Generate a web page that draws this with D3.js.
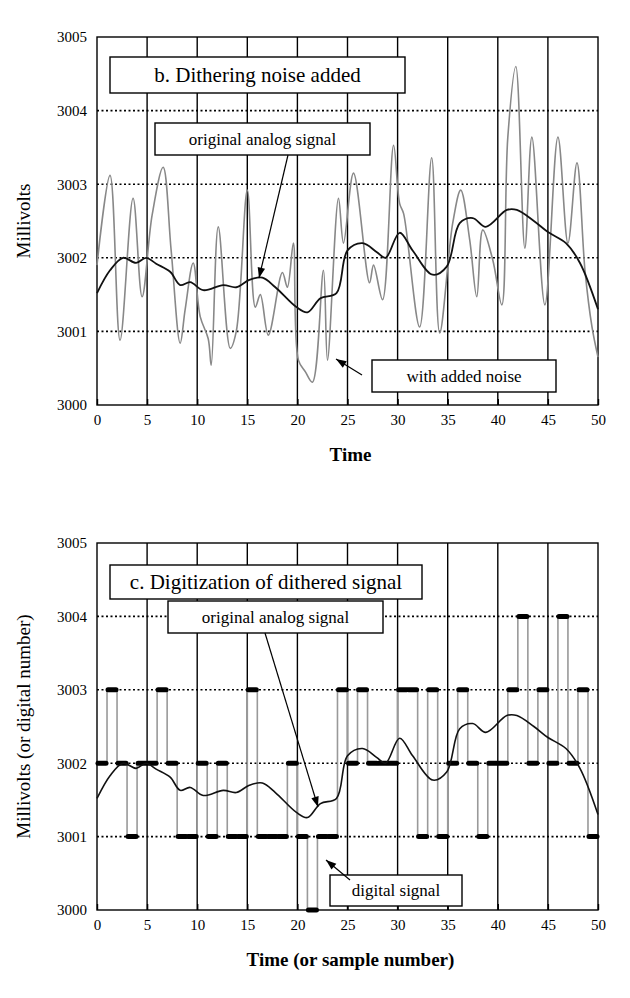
<!DOCTYPE html>
<html>
<head>
<meta charset="utf-8">
<script src="https://cdn.jsdelivr.net/npm/d3@7"></script>
<style>
body { margin: 0; background: #fff; }
svg text { font-family: "Liberation Serif", "Times New Roman", Times, "DejaVu Serif", "Noto Serif", serif !important; }
</style>
</head>
<body>
<svg id="chart" width="630" height="998"></svg>
<script>
// noisy signal (time, mV)
const noisyT = [0, 1.3, 2.3, 3.6, 4.5, 5.5, 6.6, 7.4, 8.3, 8.8, 9.6, 10.3, 11.1, 11.4, 12.1, 13.3, 13.9, 15, 15.8, 16.3, 17.1, 18.5, 19, 19.6, 20.1, 20.8, 21.5, 22.6, 23, 24.1, 24.6, 25.6, 27.2, 27.6, 28.5, 29.6, 30.2, 30.6, 32.2, 33.4, 34.2, 35.5, 36.3, 37.2, 37.9, 38.5, 39.5, 40.4, 41, 41.8, 42.7, 43.4, 44.7, 46, 47, 47.9, 48.7, 49.4, 50];
const noisyV = [3001.9, 3003.12, 3000.88, 3002.81, 3001.47, 3002.58, 3003.23, 3002.1, 3000.84, 3001.3, 3001.93, 3001.2, 3000.9, 3000.54, 3002.42, 3000.77, 3001.0, 3002.92, 3001.33, 3001.5, 3000.95, 3001.8, 3001.6, 3002.2, 3000.61, 3000.45, 3000.31, 3001.83, 3000.61, 3002.81, 3002.2, 3003.15, 3001.66, 3001.9, 3001.43, 3003.53, 3002.74, 3002.6, 3001.06, 3003.36, 3000.98, 3002.47, 3002.92, 3002.24, 3001.47, 3002.38, 3001.97, 3001.36, 3003.64, 3004.6, 3002.13, 3003.64, 3001.36, 3003.64, 3002.2, 3003.29, 3001.83, 3001.06, 3000.65];

// original analog signal
const analogT = [0, 1.3, 2.6, 3.9, 4.9, 5.9, 7.3, 8.3, 9.3, 10.6, 12.6, 13.9, 15.2, 16.5, 17.8, 19.9, 21, 22.3, 23.9, 25, 26.5, 27.9, 28.8, 30.2, 31.5, 33.5, 34.9, 36.2, 37.5, 38.8, 40.9, 41.9, 43.6, 45, 46.8, 48.2, 50];
const analogV = [3001.52, 3001.83, 3002.0, 3001.93, 3002.0, 3001.92, 3001.81, 3001.63, 3001.67, 3001.56, 3001.63, 3001.6, 3001.7, 3001.73, 3001.6, 3001.33, 3001.26, 3001.45, 3001.52, 3002.1, 3002.2, 3002.08, 3002.0, 3002.34, 3002.1, 3001.77, 3001.88, 3002.47, 3002.54, 3002.42, 3002.65, 3002.65, 3002.5, 3002.35, 3002.2, 3001.93, 3001.3];

// digitized samples, sample i held from i to i+1
const digital = [3002, 3003, 3002, 3001, 3002, 3002, 3003, 3002, 3001, 3001, 3002, 3001, 3002, 3001, 3001, 3003, 3001, 3001, 3001, 3002, 3001, 3000, 3001, 3001, 3003, 3002, 3003, 3002, 3002, 3002, 3003, 3003, 3001, 3003, 3001, 3002, 3003, 3002, 3001, 3002, 3002, 3003, 3004, 3002, 3003, 3002, 3004, 3002, 3003, 3001];

const xTicks = [0, 5, 10, 15, 20, 25, 30, 35, 40, 45, 50];
const yTicks = [3000, 3001, 3002, 3003, 3004, 3005];

const serif = '"Liberation Serif", "Times New Roman", Times, "DejaVu Serif", serif';
const svg = d3.select("#chart");
const left = 97, right = 598;

function drawPanel(top, bottom, yTitle, xTitle) {
    const x = d3.scaleLinear().domain([0, 50]).range([left, right]);
    const y = d3.scaleLinear().domain([3000, 3005]).range([bottom, top]);
    const g = svg.append("g").attr("font-family", serif);

    // dotted horizontal grid
    g.selectAll(".hg").data([3001, 3002, 3003, 3004]).join("line")
        .attr("x1", left).attr("x2", right)
        .attr("y1", d => y(d)).attr("y2", d => y(d))
        .attr("stroke", "#000").attr("stroke-width", 1.6)
        .attr("stroke-dasharray", "2,2.5");
    // solid vertical grid
    g.selectAll(".vg").data(xTicks.slice(1, -1)).join("line")
        .attr("x1", d => x(d)).attr("x2", d => x(d))
        .attr("y1", top).attr("y2", bottom)
        .attr("stroke", "#000").attr("stroke-width", 1.4);

    g.append("rect").attr("x", left).attr("y", top)
        .attr("width", right - left).attr("height", bottom - top)
        .attr("fill", "none").attr("stroke", "#000").attr("stroke-width", 1.4);

    const xa = g.append("g").attr("transform", `translate(0,${bottom})`)
        .call(d3.axisBottom(x).tickValues(xTicks).tickSize(6).tickSizeOuter(0));
    const ya = g.append("g").attr("transform", `translate(${left},0)`)
        .call(d3.axisLeft(y).tickValues(yTicks).tickSize(0).tickPadding(10).tickFormat(d3.format("d")));
    [xa, ya].forEach(a => {
        a.attr("font-family", serif);
        a.select(".domain").remove();
        a.selectAll("text").attr("font-size", 15).attr("fill", "#000");
    });
    xa.selectAll("line").attr("stroke", "#000").attr("stroke-width", 1.4).attr("y1", -6).attr("y2", 0);

    g.append("text").attr("transform", `translate(30,${(top + bottom) / 2}) rotate(-90)`)
        .attr("text-anchor", "middle").attr("font-size", 19).text(yTitle);
    g.append("text").attr("x", (left + right) / 2 + 3).attr("y", bottom + 56)
        .attr("text-anchor", "middle").attr("font-size", 19).attr("font-weight", "bold").text(xTitle);
    return { x, y, g };
}

function label(g, x, y, w, h, txt, size) {
    g.append("rect").attr("x", x).attr("y", y).attr("width", w).attr("height", h)
        .attr("fill", "#fff").attr("stroke", "#000").attr("stroke-width", 1.4);
    g.append("text").attr("x", x + w / 2).attr("y", y + h / 2 + size * 0.33)
        .attr("text-anchor", "middle").attr("font-size", size).text(txt);
}

function arrow(g, x1, y1, x2, y2) {
    g.append("line").attr("x1", x1).attr("y1", y1).attr("x2", x2).attr("y2", y2)
        .attr("stroke", "#000").attr("stroke-width", 1.2);
    const a = Math.atan2(y2 - y1, x2 - x1), L = 11, s = 0.35;
    const p = [[x2, y2],
        [x2 - L * Math.cos(a - s), y2 - L * Math.sin(a - s)],
        [x2 - L * Math.cos(a + s), y2 - L * Math.sin(a + s)]];
    g.append("path").attr("d", "M" + p.join("L") + "Z").attr("fill", "#000");
}

// panel b
const b = drawPanel(37, 405, "Millivolts", "Time");
const noisyLine = d3.line().x((d, i) => b.x(noisyT[i])).y(d => b.y(d)).curve(d3.curveCatmullRom.alpha(0.5));
b.g.append("path").datum(noisyV).attr("d", noisyLine)
    .attr("fill", "none").attr("stroke", "#888").attr("stroke-width", 1.6);
const analogLineB = d3.line().x((d, i) => b.x(analogT[i])).y(d => b.y(d)).curve(d3.curveCatmullRom.alpha(0.5));
b.g.append("path").datum(analogV).attr("d", analogLineB)
    .attr("fill", "none").attr("stroke", "#111").attr("stroke-width", 1.8);
label(b.g, 110, 57, 295, 36, "b.  Dithering noise added", 21);
label(b.g, 155, 123, 215, 32, "original analog signal", 17);
arrow(b.g, 288, 155, 259, 278);
label(b.g, 372, 360, 184, 32, "with added noise", 17);
arrow(b.g, 362, 375, 336, 359);

// panel c
const c = drawPanel(543, 910, "Millivolts (or digital number)", "Time (or sample number)");
const steps = [];
digital.forEach((v, i) => { steps.push([i, v]); steps.push([i + 1, v]); });
c.g.append("path").datum(steps)
    .attr("d", d3.line().x(d => c.x(d[0])).y(d => c.y(d[1])))
    .attr("fill", "none").attr("stroke", "#999").attr("stroke-width", 1.6);
c.g.selectAll(".bar").data(digital).join("line")
    .attr("x1", (d, i) => c.x(i) + 1).attr("x2", (d, i) => c.x(i + 1) - 1)
    .attr("y1", d => c.y(d)).attr("y2", d => c.y(d))
    .attr("stroke", "#000").attr("stroke-width", 5).attr("stroke-linecap", "round");
const analogLineC = d3.line().x((d, i) => c.x(analogT[i])).y(d => c.y(d)).curve(d3.curveCatmullRom.alpha(0.5));
c.g.append("path").datum(analogV).attr("d", analogLineC)
    .attr("fill", "none").attr("stroke", "#111").attr("stroke-width", 1.6);
label(c.g, 110, 565, 312, 34, "c.  Digitization of dithered signal", 21);
label(c.g, 168, 601, 215, 32, "original analog signal", 17);
arrow(c.g, 265, 633, 318, 807);
label(c.g, 330, 875, 132, 31, "digital signal", 17);
arrow(c.g, 350, 880, 326, 860);
</script>
</body>
</html>
